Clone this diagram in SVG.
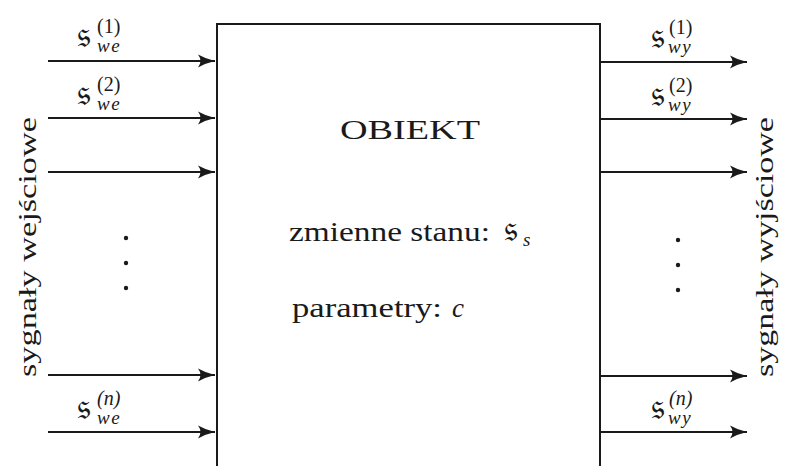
<svg xmlns="http://www.w3.org/2000/svg" width="789" height="466" viewBox="0 0 789 466">
  <style>
    .txt { font-family: "Liberation Serif", "DejaVu Serif", serif; fill: #1a1a1a; }
    .frak { font-family: "DejaVu Serif", "DejaVu Sans", "Noto Sans", serif; font-size: 36px; fill: #1a1a1a; }
    .sup { font-family: "Liberation Serif", serif; font-size: 20px; fill: #1a1a1a; }
    .sub { font-family: "Liberation Serif", serif; font-style: italic; font-size: 19px; fill: #1a1a1a; }
    .wire { stroke: #1a1a1a; stroke-width: 2; fill: none; marker-end: url(#head); }
    .dot { fill: #1a1a1a; }
  </style>
  <defs>
    <marker id="head" markerUnits="userSpaceOnUse" markerWidth="22" markerHeight="16" refX="18" refY="8" orient="auto">
      <path d="M1,1.5 Q9,6 18,8 Q9,10 1,14.5 Q6,8 1,1.5 Z" fill="#1a1a1a"/>
    </marker>
  </defs>

  <rect width="789" height="466" fill="#ffffff"/>

  <!-- object block (open at the bottom) -->
  <g id="obiekt">
    <path d="M217,466 V24 H600 V466" fill="none" stroke="#1a1a1a" stroke-width="2"/>
    <text class="txt" x="410" y="139" font-size="28" text-anchor="middle" textLength="140" lengthAdjust="spacingAndGlyphs">OBIEKT</text>
    <text class="txt" x="289" y="241" font-size="27" textLength="201" lengthAdjust="spacingAndGlyphs">zmienne stanu:</text>
    <text class="frak" x="504" y="241">𝔰</text>
    <text class="sub" x="523" y="246" font-size="14">s</text>
    <text class="txt" x="292" y="317" font-size="27" textLength="150" lengthAdjust="spacingAndGlyphs">parametry:</text>
    <text class="txt" x="452" y="317" font-size="27" font-style="italic">c</text>
  </g>

  <!-- side captions -->
  <g id="wejscia-opis">
    <text class="txt" font-size="26" text-anchor="middle" transform="translate(36,247) rotate(-90)" textLength="260" lengthAdjust="spacingAndGlyphs">sygnały wejściowe</text>
  </g>
  <g id="wyjscia-opis">
    <text class="txt" font-size="26" text-anchor="middle" transform="translate(773,247) rotate(-90)" textLength="260" lengthAdjust="spacingAndGlyphs">sygnały wyjściowe</text>
  </g>

  <!-- signal labels -->
  <g id="we1">
    <text class="frak" x="77" y="47">𝔰</text>
    <text class="sup" x="97" y="33">(1)</text>
    <text class="sub" x="97" y="52" letter-spacing="1.5">we</text>
  </g>
  <g id="we2">
    <text class="frak" x="77" y="105">𝔰</text>
    <text class="sup" x="97" y="91">(2)</text>
    <text class="sub" x="97" y="110" letter-spacing="1.5">we</text>
  </g>
  <g id="wen">
    <text class="frak" x="77" y="419">𝔰</text>
    <text class="sup" x="97" y="405" font-style="italic">(n)</text>
    <text class="sub" x="97" y="424" letter-spacing="1.5">we</text>
  </g>
  <g id="wy1">
    <text class="frak" x="651" y="48">𝔰</text>
    <text class="sup" x="669" y="34">(1)</text>
    <text class="sub" x="668" y="53" letter-spacing="1.5">wy</text>
  </g>
  <g id="wy2">
    <text class="frak" x="651" y="106">𝔰</text>
    <text class="sup" x="669" y="92">(2)</text>
    <text class="sub" x="668" y="111" letter-spacing="1.5">wy</text>
  </g>
  <g id="wyn">
    <text class="frak" x="651" y="419">𝔰</text>
    <text class="sup" x="669" y="405" font-style="italic">(n)</text>
    <text class="sub" x="668" y="424" letter-spacing="1.5">wy</text>
  </g>

  <!-- continuation dots -->
  <g id="kropki">
    <circle class="dot" cx="126" cy="238" r="2.2"/>
    <circle class="dot" cx="126" cy="263" r="2.2"/>
    <circle class="dot" cx="126" cy="288" r="2.2"/>
    <circle class="dot" cx="678" cy="240" r="2.2"/>
    <circle class="dot" cx="678" cy="265" r="2.2"/>
    <circle class="dot" cx="678" cy="290" r="2.2"/>
  </g>

  <!-- connectors -->
  <g id="polaczenia">
    <line class="wire" x1="48" y1="61" x2="215" y2="61"/>
    <line class="wire" x1="48" y1="118" x2="215" y2="118"/>
    <line class="wire" x1="48" y1="172" x2="215" y2="172"/>
    <line class="wire" x1="48" y1="375" x2="215" y2="375"/>
    <line class="wire" x1="48" y1="432" x2="215" y2="432"/>
    <line class="wire" x1="600" y1="62" x2="747" y2="62"/>
    <line class="wire" x1="600" y1="119" x2="747" y2="119"/>
    <line class="wire" x1="600" y1="172" x2="747" y2="172"/>
    <line class="wire" x1="600" y1="376" x2="747" y2="376"/>
    <line class="wire" x1="600" y1="432" x2="747" y2="432"/>
  </g>
</svg>
